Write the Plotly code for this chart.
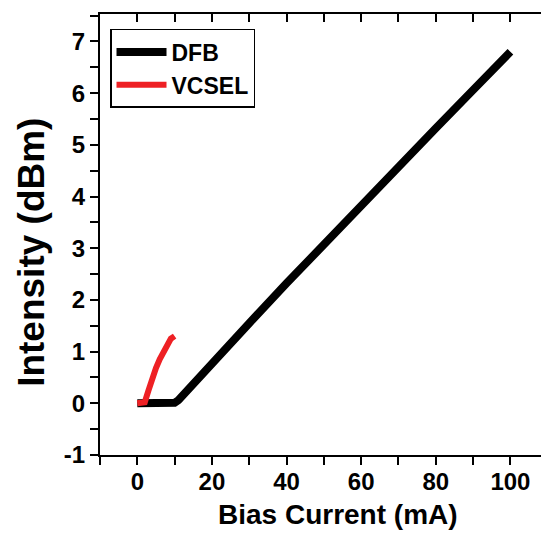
import plotly.graph_objects as go

# Data
dfb_current = [0, 2, 4, 6, 8, 10, 11, 12, 14, 20, 30, 40, 50, 60, 70, 80, 90, 100]
dfb_intensity = [0, 0, 0, 0, 0, 0.01, 0.06, 0.14, 0.3, 0.78, 1.55, 2.32, 3.08, 3.84, 4.58, 5.32, 6.06, 6.8]

vcsel_current = [0, 1, 2, 3, 4, 5, 6, 7, 8, 9, 10]
vcsel_intensity = [0, 0, 0.02, 0.25, 0.5, 0.68, 0.85, 1.0, 1.15, 1.25, 1.3]

x_tick_vals = [0, 20, 40, 60, 80, 100]
x_tick_text = ["0", "20", "40", "60", "80", "100"]
y_tick_vals = [-1, 0, 1, 2, 3, 4, 5, 6, 7]
y_tick_text = ["-1", "0", "1", "2", "3", "4", "5", "6", "7"]

FONT = "Liberation Sans, Arial, sans-serif"

fig = go.Figure()
fig.add_trace(go.Scatter(x=dfb_current, y=dfb_intensity, mode="lines", name="DFB",
                         line=dict(color="black", width=8)))
fig.add_trace(go.Scatter(x=vcsel_current, y=vcsel_intensity, mode="lines", name="VCSEL",
                         line=dict(color="#ee2024", width=6)))
# empty helper trace so the top (mirror) axis is drawn
fig.add_trace(go.Scatter(x=[None], y=[None], xaxis="x2", yaxis="y", showlegend=False,
                         hoverinfo="skip", mode="lines"))

axis_common = dict(showgrid=False, zeroline=False, showline=True, linecolor="black",
                   linewidth=2, tickcolor="black", tickwidth=2, ticklen=8)

fig.update_layout(
    width=541, height=537,
    margin=dict(l=100, r=0, t=14, b=82),
    paper_bgcolor="white", plot_bgcolor="white",
    font=dict(family=FONT, color="black"),
    xaxis=dict(range=[-10, 108.2], tickvals=x_tick_vals, ticktext=x_tick_text, ticks="outside",
               minor=dict(dtick=10, tick0=0, ticks="outside", ticklen=8, tickwidth=2, tickcolor="black"),
               tickfont=dict(family=FONT, size=24, weight="bold"), ticklabelstandoff=-4,
               **axis_common),
    yaxis=dict(range=[-1, 7.53], tickvals=y_tick_vals, ticktext=y_tick_text, ticks="outside",
               minor=dict(dtick=0.5, tick0=0, ticks="outside", ticklen=8, tickwidth=2, tickcolor="black"),
               tickfont=dict(family=FONT, size=24, weight="bold"), **axis_common),
    xaxis2=dict(range=[-10, 108.2], overlaying="x", side="top", anchor="y",
                tickvals=list(range(0, 110, 10)), ticks="inside", showticklabels=False,
                **axis_common),
    showlegend=True,
    legend=dict(x=0.0227, y=0.966, xanchor="left", yanchor="top",
                bordercolor="black", borderwidth=1.5, bgcolor="white",
                font=dict(family=FONT, size=23, weight="bold"),
                itemwidth=50, tracegroupgap=0),
    annotations=[
        dict(text="Bias Current (mA)", xref="paper", yref="paper",
             x=(338 - 100) / 441, y=-(515 - 455.3) / 441.3, xanchor="center", yanchor="middle",
             showarrow=False, font=dict(family=FONT, size=28, weight="bold")),
        dict(text="Intensity (dBm)", xref="paper", yref="paper",
             x=-(100 - 32) / 441, y=(455.3 - 253) / 441.3, xanchor="center", yanchor="middle",
             textangle=-90, showarrow=False, font=dict(family=FONT, size=37, weight="bold")),
    ],
)

fig.write_html("out.html", config={"displayModeBar": False},
               post_script="document.body.style.margin='0px';")
